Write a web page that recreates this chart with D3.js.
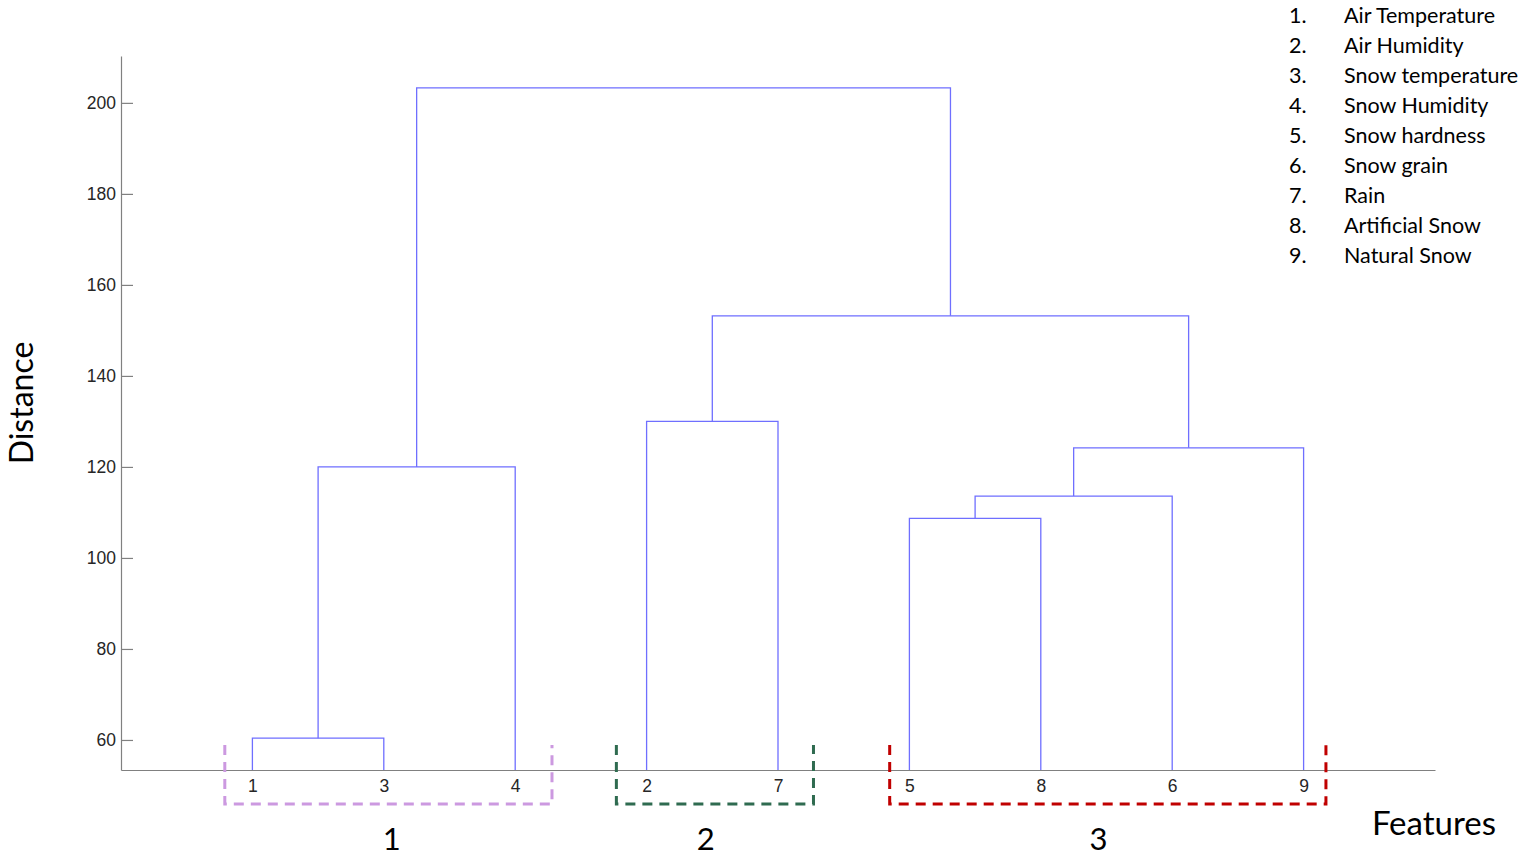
<!DOCTYPE html>
<html>
<head>
<meta charset="utf-8">
<script src="https://cdn.jsdelivr.net/npm/d3@7"></script>
<style>
  html, body { margin: 0; padding: 0; background: #fff; }
  svg { display: block; }
</style>
</head>
<body>
<svg id="chart" width="1536" height="857"></svg>
<script>
// ---------- data ----------
const leafOrder = [1, 3, 4, 2, 7, 5, 8, 6, 9];
// linkage (MATLAB style): clusters 10.. are created in this order
const linkLeft   = [1, 5, 11, 10, 12, 2, 15, 13];
const linkRight  = [3, 8, 6, 4, 9, 7, 14, 16];
const linkHeight = [60.4, 108.7, 113.6, 120.0, 124.2, 130.0, 153.2, 203.3];
const yTicks = [60, 80, 100, 120, 140, 160, 180, 200];
const featureNames = ["Air Temperature", "Air Humidity", "Snow temperature", "Snow Humidity",
  "Snow hardness", "Snow grain", "Rain", "Artificial Snow", "Natural Snow"];
const clusterNames = ["1", "2", "3"];
const clusterStart = [0.79, 3.77, 5.85];   // x extents in leaf-position units
const clusterEnd   = [3.28, 5.27, 9.17];
const clusterLabelPos = [2.06, 4.45, 7.44];
const clusterColors = ["#cc99e0", "#2f6b50", "#c00000"];

(function () {
// ---------- layout ----------
const svg = d3.select("#chart");
const mLeft = 121, mRight = 1435, mTop = 56, mBottom = 770;
const x = d3.scaleLinear().domain([0, 10]).range([mLeft, mRight]);
const y = d3.scaleLinear().domain([53.4, 210.3]).range([mBottom, mTop]);

// node positions
const nodeX = {}, nodeY = {};
leafOrder.forEach((leaf, i) => { nodeX[leaf] = x(i + 1); nodeY[leaf] = y.domain()[0]; });
linkLeft.forEach((l, i) => {
  const id = 10 + i;
  nodeX[id] = (nodeX[l] + nodeX[linkRight[i]]) / 2;
  nodeY[id] = linkHeight[i];
});

// ---------- axes ----------
const yAxis = d3.axisLeft(y).tickValues(yTicks).tickSizeInner(-12).tickSizeOuter(0).tickPadding(5);
const gy = svg.append("g").attr("transform", `translate(${mLeft},0)`).call(yAxis);
gy.select(".domain").attr("stroke", "#808080").attr("stroke-width", 1.2);
gy.selectAll(".tick line").attr("stroke", "#808080").attr("stroke-width", 1.2);
gy.selectAll(".tick text").attr("font-family", "'Liberation Sans', Arial, sans-serif")
  .attr("font-size", 17.5).attr("fill", "#262626").attr("x", -5);

const xAxis = d3.axisBottom(x).tickValues(leafOrder.map((d, i) => i + 1))
  .tickFormat((d, i) => leafOrder[i]).tickSize(0).tickPadding(10);
const gx = svg.append("g").attr("transform", `translate(0,${mBottom})`).call(xAxis);
gx.select(".domain").attr("stroke", "#808080").attr("stroke-width", 1.2);
gx.selectAll(".tick text").attr("font-family", "'Liberation Sans', Arial, sans-serif")
  .attr("font-size", 17.5).attr("fill", "#262626");

// ---------- dendrogram links ----------
const links = svg.append("g").attr("fill", "none").attr("stroke", "#6f6fff").attr("stroke-width", 1.3);
linkLeft.forEach((l, i) => {
  const r = linkRight[i];
  const h = y(linkHeight[i]);
  const p = d3.path();
  p.moveTo(nodeX[l], y(nodeY[l]));
  p.lineTo(nodeX[l], h);
  p.lineTo(nodeX[r], h);
  p.lineTo(nodeX[r], y(nodeY[r]));
  links.append("path").attr("d", p.toString());
});

// ---------- cluster boxes ----------
const boxTop = 745, boxBottom = 804;
clusterNames.forEach((name, i) => {
  const x0 = x(clusterStart[i]), x1 = x(clusterEnd[i]);
  svg.append("path")
    .attr("d", `M${x0},${boxTop}L${x0},${boxBottom}L${x1},${boxBottom}L${x1},${boxTop}`)
    .attr("fill", "none").attr("stroke", clusterColors[i]).attr("stroke-width", 3)
    .attr("stroke-dasharray", "10,7");
  svg.append("text").attr("x", x(clusterLabelPos[i])).attr("y", 850)
    .attr("text-anchor", "middle").attr("font-family", "Lato, 'Open Sans', sans-serif")
    .attr("font-size", 31).attr("fill", "#000").text(name);
});

// ---------- axis titles ----------
svg.append("text").attr("transform", "translate(33,403) rotate(-90)")
  .attr("text-anchor", "middle").attr("font-family", "Lato, 'Open Sans', sans-serif")
  .attr("font-size", 32).attr("fill", "#000").text("Distance");
svg.append("text").attr("x", 1496).attr("y", 835).attr("text-anchor", "end")
  .attr("font-family", "Lato, 'Open Sans', sans-serif")
  .attr("font-size", 33).attr("fill", "#000").text("Features");

// ---------- legend ----------
const lg = svg.append("g").attr("font-family", "Lato, 'Open Sans', sans-serif")
  .attr("font-size", 21.5).attr("fill", "#000");
featureNames.forEach((name, i) => {
  const yy = 23 + i * 30;
  lg.append("text").attr("x", 1289).attr("y", yy).text(`${i + 1}.`);
  lg.append("text").attr("x", 1344).attr("y", yy).text(name);
});
})();
</script>
</body>
</html>
